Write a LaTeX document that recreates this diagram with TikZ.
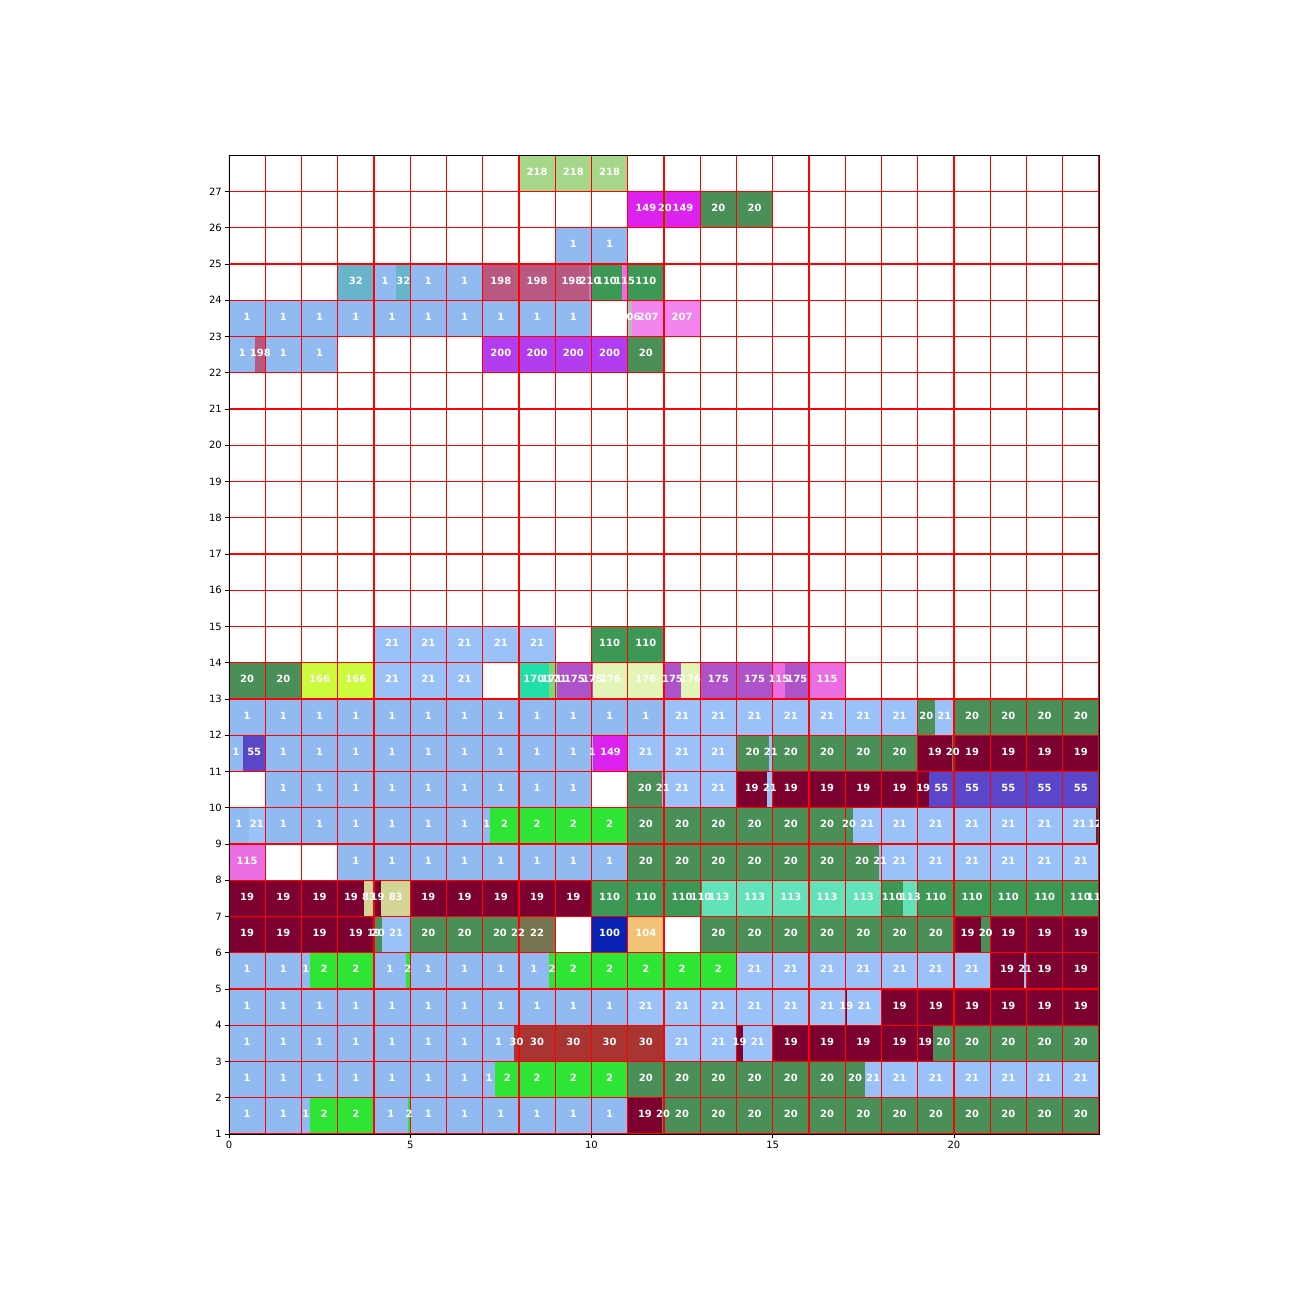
\documentclass[tikz,border=0pt]{standalone}
\usepackage{fontspec}
\setmainfont{DejaVu Sans}
\definecolor{cA}{RGB}{145,187,240}
\definecolor{cB}{RGB}{155,194,248}
\definecolor{c20}{RGB}{73,143,87}
\definecolor{c19}{RGB}{124,0,48}
\definecolor{c2}{RGB}{46,228,53}
\definecolor{c110}{RGB}{60,152,84}
\definecolor{c113}{RGB}{98,226,184}
\definecolor{c55}{RGB}{90,70,200}
\definecolor{c30}{RGB}{168,53,50}
\definecolor{c100}{RGB}{10,34,180}
\definecolor{c104}{RGB}{242,194,118}
\definecolor{c22}{RGB}{118,117,80}
\definecolor{c83}{RGB}{210,213,150}
\definecolor{c115}{RGB}{234,110,226}
\definecolor{c149}{RGB}{220,34,238}
\definecolor{c170}{RGB}{34,223,170}
\definecolor{c171}{RGB}{125,216,125}
\definecolor{c175}{RGB}{174,82,202}
\definecolor{c176}{RGB}{226,245,182}
\definecolor{c166}{RGB}{204,250,60}
\definecolor{c198}{RGB}{185,88,128}
\definecolor{c200}{RGB}{178,60,240}
\definecolor{c207}{RGB}{242,132,238}
\definecolor{c206}{RGB}{187,187,187}
\definecolor{c210}{RGB}{176,128,224}
\definecolor{c218}{RGB}{166,214,138}
\definecolor{c32}{RGB}{104,180,202}
\definecolor{c12}{RGB}{92,40,44}
\newcounter{lc}
\tikzset{
  lbl/.style={text=white,font=\bfseries\fontsize{7.8}{9}\selectfont,inner sep=0pt},
  ticklbl/.style={text=black,font=\fontsize{7.85}{9}\selectfont,inner sep=0pt},
  gridline/.style={red,line width=0.8pt},
  spine/.style={black,line width=0.63pt},
  tickmark/.style={black,line width=0.63pt}
}
\newcommand{\segfill}[5]{\fill[#4] (#1,#3) rectangle (#2,#3+1);}
\newcommand{\seglabel}[5]{\stepcounter{lc}\node[lbl] (L\arabic{lc}) at ({(#1+#2)/2},#3+0.545) {#5};}
\newcommand{\cellrun}[5]{\foreach \cc in {#1,...,#2} {\myseg{\cc}{\cc+1}{#3}{#4}{#5}}}
\newcommand{\celldata}{%
% row 27
\cellrun{8}{10}{27}{c218}{218}
% row 26
\cellrun{11}{11}{26}{c149}{149}
\myseg{12}{12.05}{26}{c20}{20}
\myseg{12.05}{13}{26}{c149}{149}
\cellrun{13}{14}{26}{c20}{20}
% row 25
\cellrun{9}{10}{25}{cA}{1}
% row 24
\cellrun{3}{3}{24}{c32}{32}
\myseg{4}{4.615}{24}{cA}{1}
\myseg{4.615}{5}{24}{c32}{32}
\cellrun{5}{6}{24}{cA}{1}
\cellrun{7}{8}{24}{c198}{198}
\myseg{9}{9.92}{24}{c198}{198}
\myseg{9.92}{10}{24}{c210}{210}
\myseg{10}{10.83}{24}{c110}{110}
\myseg{10.83}{11}{24}{c115}{115}
\cellrun{11}{11}{24}{c110}{110}
% row 23
\cellrun{0}{9}{23}{cA}{1}
\myseg{11}{11.13}{23}{c206}{206}
\myseg{11.13}{12}{23}{c207}{207}
\cellrun{12}{12}{23}{c207}{207}
% row 22
\myseg{0}{0.73}{22}{cA}{1}
\myseg{0.73}{1}{22}{c198}{198}
\cellrun{1}{2}{22}{cA}{1}
\cellrun{7}{10}{22}{c200}{200}
\cellrun{11}{11}{22}{c20}{20}
% row 14
\cellrun{4}{8}{14}{cB}{21}
\cellrun{10}{11}{14}{c110}{110}
% row 13
\cellrun{0}{1}{13}{c20}{20}
\cellrun{2}{3}{13}{c166}{166}
\cellrun{4}{6}{13}{cB}{21}
\myseg{8}{8.82}{13}{c170}{170}
\myseg{8.82}{9}{13}{c171}{171}
\myseg{9}{9.06}{13}{c171}{171}
\myseg{9.06}{10}{13}{c175}{175}
\myseg{10}{10.05}{13}{c175}{175}
\myseg{10.05}{11}{13}{c176}{176}
\cellrun{11}{11}{13}{c176}{176}
\myseg{12}{12.47}{13}{c175}{175}
\myseg{12.47}{13}{13}{c176}{176}
\cellrun{13}{14}{13}{c175}{175}
\myseg{15}{15.34}{13}{c115}{115}
\myseg{15.34}{16}{13}{c175}{175}
\cellrun{16}{16}{13}{c115}{115}
% row 12
\cellrun{0}{11}{12}{cA}{1}
\cellrun{12}{18}{12}{cB}{21}
\myseg{19}{19.47}{12}{c20}{20}
\myseg{19.47}{20}{12}{cB}{21}
\cellrun{20}{23}{12}{c20}{20}
% row 11
\myseg{0}{0.39}{11}{cA}{1}
\myseg{0.39}{1}{11}{c55}{55}
\cellrun{1}{9}{11}{cA}{1}
\myseg{10}{10.05}{11}{cA}{1}
\myseg{10.05}{11}{11}{c149}{149}
\cellrun{11}{13}{11}{cB}{21}
\myseg{14}{14.89}{11}{c20}{20}
\myseg{14.89}{15}{11}{cB}{21}
\cellrun{15}{18}{11}{c20}{20}
\myseg{19}{19.94}{11}{c19}{19}
\myseg{19.94}{20}{11}{c20}{20}
\cellrun{20}{23}{11}{c19}{19}
% row 10
\cellrun{1}{9}{10}{cA}{1}
\myseg{11}{11.94}{10}{c20}{20}
\myseg{11.94}{12}{10}{cB}{21}
\cellrun{12}{13}{10}{cB}{21}
\myseg{14}{14.84}{10}{c19}{19}
\myseg{14.84}{15}{10}{cB}{21}
\cellrun{15}{18}{10}{c19}{19}
\myseg{19}{19.3}{10}{c19}{19}
\myseg{19.3}{20}{10}{c55}{55}
\cellrun{20}{23}{10}{c55}{55}
% row 9
\myseg{0}{0.54}{9}{cA}{1}
\myseg{0.54}{1}{9}{cB}{21}
\cellrun{1}{6}{9}{cA}{1}
\myseg{7}{7.21}{9}{cA}{1}
\myseg{7.21}{8}{9}{c2}{2}
\cellrun{8}{10}{9}{c2}{2}
\cellrun{11}{16}{9}{c20}{20}
\myseg{17}{17.21}{9}{c20}{20}
\myseg{17.21}{18}{9}{cB}{21}
\cellrun{18}{22}{9}{cB}{21}
\myseg{23}{23.92}{9}{cB}{21}
\myseg{23.92}{24}{9}{c12}{}
% row 8
\cellrun{0}{0}{8}{c115}{115}
\cellrun{3}{10}{8}{cA}{1}
\cellrun{11}{16}{8}{c20}{20}
\myseg{17}{17.93}{8}{c20}{20}
\myseg{17.93}{18}{8}{cB}{21}
\cellrun{18}{23}{8}{cB}{21}
% row 7
\cellrun{0}{2}{7}{c19}{19}
\myseg{3}{3.73}{7}{c19}{19}
\myseg{3.73}{4}{7}{c83}{83}
\myseg{4}{4.2}{7}{c19}{19}
\myseg{4.2}{5}{7}{c83}{83}
\cellrun{5}{9}{7}{c19}{19}
\cellrun{10}{12}{7}{c110}{110}
\myseg{13}{13.04}{7}{c110}{110}
\myseg{13.04}{14}{7}{c113}{113}
\cellrun{14}{17}{7}{c113}{113}
\myseg{18}{18.59}{7}{c110}{110}
\myseg{18.59}{19}{7}{c113}{113}
\cellrun{19}{22}{7}{c110}{110}
\myseg{23}{23.97}{7}{c110}{110}
\myseg{23.97}{24}{7}{c115}{}
% row 6
\cellrun{0}{3}{6}{c19}{19}
\myseg{4}{4}{6}{c19}{19}
\myseg{4}{4.22}{6}{c20}{20}
\myseg{4.22}{5}{6}{cB}{21}
\cellrun{5}{6}{6}{c20}{20}
\myseg{7}{7.95}{6}{c20}{20}
\myseg{7.95}{8}{6}{c22}{22}
\cellrun{8}{8}{6}{c22}{22}
\cellrun{10}{10}{6}{c100}{100}
\cellrun{11}{11}{6}{c104}{104}
\cellrun{13}{19}{6}{c20}{20}
\myseg{20}{20.75}{6}{c19}{19}
\myseg{20.75}{21}{6}{c20}{20}
\cellrun{21}{23}{6}{c19}{19}
% row 5
\cellrun{0}{1}{5}{cA}{1}
\myseg{2}{2.24}{5}{cA}{1}
\myseg{2.24}{3}{5}{c2}{2}
\cellrun{3}{3}{5}{c2}{2}
\myseg{4}{4.87}{5}{cA}{1}
\myseg{4.87}{5}{5}{c2}{2}
\cellrun{5}{7}{5}{cA}{1}
\myseg{8}{8.82}{5}{cA}{1}
\myseg{8.82}{9}{5}{c2}{2}
\cellrun{9}{13}{5}{c2}{2}
\cellrun{14}{20}{5}{cB}{21}
\myseg{21}{21.93}{5}{c19}{19}
\myseg{21.93}{22}{5}{cB}{21}
\cellrun{22}{23}{5}{c19}{19}
% row 4
\cellrun{0}{10}{4}{cA}{1}
\cellrun{11}{16}{4}{cB}{21}
\myseg{17}{17.06}{4}{c19}{19}
\myseg{17.06}{18}{4}{cB}{21}
\cellrun{18}{23}{4}{c19}{19}
% row 3
\cellrun{0}{6}{3}{cA}{1}
\myseg{7}{7.87}{3}{cA}{1}
\myseg{7.87}{8}{3}{c30}{30}
\cellrun{8}{11}{3}{c30}{30}
\cellrun{12}{13}{3}{cB}{21}
\myseg{14}{14.17}{3}{c19}{19}
\myseg{14.17}{15}{3}{cB}{21}
\cellrun{15}{18}{3}{c19}{19}
\myseg{19}{19.41}{3}{c19}{19}
\myseg{19.41}{20}{3}{c20}{20}
\cellrun{20}{23}{3}{c20}{20}
% row 2
\cellrun{0}{6}{2}{cA}{1}
\myseg{7}{7.35}{2}{cA}{1}
\myseg{7.35}{8}{2}{c2}{2}
\cellrun{8}{10}{2}{c2}{2}
\cellrun{11}{16}{2}{c20}{20}
\myseg{17}{17.54}{2}{c20}{20}
\myseg{17.54}{18}{2}{cB}{21}
\cellrun{18}{23}{2}{cB}{21}
% row 1
\cellrun{0}{1}{1}{cA}{1}
\myseg{2}{2.24}{1}{cA}{1}
\myseg{2.24}{3}{1}{c2}{2}
\cellrun{3}{3}{1}{c2}{2}
\myseg{4}{4.93}{1}{cA}{1}
\myseg{4.93}{5}{1}{c2}{2}
\cellrun{5}{10}{1}{cA}{1}
\myseg{11}{11.95}{1}{c19}{19}
\myseg{11.95}{12}{1}{c20}{20}
\cellrun{12}{23}{1}{c20}{20}
}
\begin{document}
\begin{tikzpicture}[x=1cm,y=1cm]
\useasboundingbox (-6.317,-3.469) rectangle (29.434,32.283);
\begin{scope}
  \clip (0,1) rectangle (24,28);
  \let\myseg\segfill
  \celldata
  \foreach \gx in {0,...,24} {\draw[gridline] (\gx,1) -- (\gx,28);}
  \foreach \gy in {1,...,28} {\draw[gridline] (0,\gy) -- (24,\gy);}
  \let\myseg\seglabel
  \celldata
  \node[lbl,anchor=west] (E9) at (23.69,9.545) {12};
  \node[lbl,anchor=west] (E7) at (23.66,7.545) {11};
\end{scope}
\draw[spine] (0,1) rectangle (24,28);
\foreach \ty in {1,...,27} {
  \draw[tickmark] (0,\ty) -- (-0.097,\ty);
  \node[ticklbl,anchor=east] (Y\ty) at (-0.193,\ty) {\ty};
}
\foreach \tx in {0,5,10,15,20} {
  \draw[tickmark] (\tx,1) -- (\tx,0.903);
  \node[ticklbl,anchor=north] (X\tx) at (\tx,0.807) {\tx};
}
\end{tikzpicture}
\end{document}
